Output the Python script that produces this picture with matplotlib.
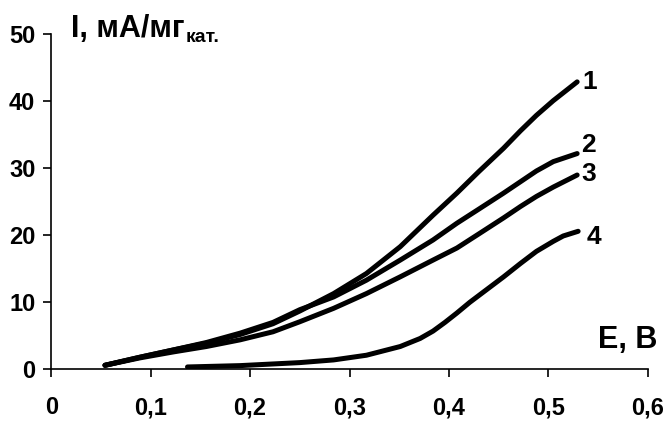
import matplotlib
matplotlib.use("Agg")
import matplotlib.pyplot as plt

# potential E (V) vs current I (mA/mg)
E123 = [0.054, 0.089, 0.123, 0.156, 0.190, 0.223, 0.250, 0.284, 0.317, 0.351,
        0.384, 0.408, 0.430, 0.455, 0.472, 0.488, 0.505, 0.529]
I1 = [0.6, 1.8, 2.9, 3.9, 5.2, 6.8, 8.7, 11.3, 14.3, 18.3, 23.0, 26.3, 29.5,
      33.0, 35.6, 37.9, 40.1, 42.9]
I2 = [0.6, 1.8, 2.9, 4.0, 5.4, 7.0, 8.9, 10.8, 13.3, 16.3, 19.3, 21.8, 23.9,
      26.3, 28.0, 29.6, 31.0, 32.2]
I3 = [0.6, 1.7, 2.6, 3.4, 4.4, 5.6, 7.1, 9.1, 11.3, 13.8, 16.3, 18.1, 20.2,
      22.6, 24.3, 25.8, 27.2, 29.0]
E4 = [0.137, 0.190, 0.250, 0.284, 0.317, 0.351, 0.371, 0.384, 0.396, 0.408, 0.421,
      0.438, 0.455, 0.472, 0.488, 0.505, 0.515, 0.530]
I4 = [0.35, 0.55, 1.0, 1.4, 2.1, 3.4, 4.6, 5.7, 7.0, 8.4, 10.0, 11.9, 13.8, 15.8,
      17.6, 19.1, 19.9, 20.6]
curve_labels = ["1", "2", "3", "4"]

xticks = [0, 0.1, 0.2, 0.3, 0.4, 0.5, 0.6]
yticks = [0, 10, 20, 30, 40, 50]

plt.rcParams["font.family"] = ["Liberation Sans", "DejaVu Sans"]
plt.rcParams["font.weight"] = "bold"

fig = plt.figure(figsize=(6.69, 4.21), dpi=100)
ax = fig.add_axes([0.0767, 0.1228, 0.8915, 0.7957])

series = [(E123, I1), (E123, I2), (E123, I3), (E4, I4)]
offsets = [(4, 0), (3, 6), (3, 1), (6, -4)]
for (x, y), lab, off in zip(series, curve_labels, offsets):
    ax.plot(x, y, color="black", lw=3.6, solid_capstyle="round",
            solid_joinstyle="round")
    ax.annotate(lab, (x[-1], y[-1]), xytext=off, textcoords="offset points",
                fontsize=19, fontweight="bold", va="center", ha="left")

ax.set_xlim(0, 0.6)
ax.set_ylim(0, 50)
ax.set_xticks(xticks)
ax.set_yticks(yticks)
ax.set_xticklabels([("%g" % t).replace(".", ",") for t in xticks])
ax.set_yticklabels([str(t) for t in yticks])
for s in ("top", "right"):
    ax.spines[s].set_visible(False)
for s in ("left", "bottom"):
    ax.spines[s].set_linewidth(1.2)
ax.tick_params(direction="out", length=5.5, width=1.2, labelsize=17)
ax.tick_params(axis="y", pad=6)
ax.tick_params(axis="x", pad=14)
for t in ax.get_xticklabels() + ax.get_yticklabels():
    t.set_fontweight("bold")

main = fig.text(0.106, 0.912, "I, мА/мг", fontsize=22, fontweight="bold",
                va="baseline")
r = fig.canvas.get_renderer()
bb = main.get_window_extent(renderer=r)
fig.text(bb.x1 / fig.bbox.width + 0.001, 0.901, "кат.", fontsize=14,
         fontweight="bold", va="baseline")

fig.text(0.982, 0.173, "E, B", fontsize=22, fontweight="bold", ha="right",
         va="baseline")

fig.savefig("out.png", dpi=100)
